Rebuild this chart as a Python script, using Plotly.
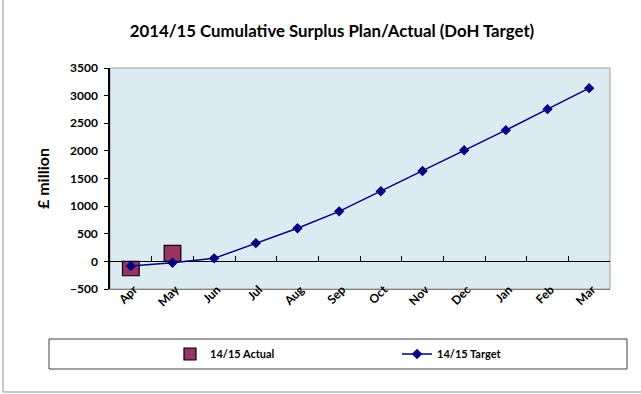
import plotly.graph_objects as go

months = ["Apr", "May", "Jun", "Jul", "Aug", "Sep", "Oct", "Nov", "Dec", "Jan", "Feb", "Mar"]
actual = [-260, 290]
target = [-85, -25, 55, 330, 600, 905, 1270, 1635, 2010, 2375, 2755, 3135]
y_ticks = [-500, 0, 500, 1000, 1500, 2000, 2500, 3000, 3500]

FONT = "Lato"
x_idx = list(range(len(months)))

fig = go.Figure()
fig.add_trace(go.Bar(
    x=x_idx[:len(actual)], y=actual, name="14/15 Actual", width=0.4,
    marker=dict(color="#993366", line=dict(color="#000000", width=1.2)),
))
fig.add_trace(go.Scatter(
    x=x_idx, y=target, name="14/15 Target", mode="lines+markers",
    line=dict(color="#000080", width=1.5),
    marker=dict(symbol="diamond", size=8, color="#000080"),
))

fig.update_layout(
    width=641, height=394,
    margin=dict(l=110, r=31, t=68, b=105),
    paper_bgcolor="white", plot_bgcolor="#DCEBF2",
    font=dict(family=FONT, color="#000000"),
    title=dict(text="2014/15 Cumulative Surplus Plan/Actual (DoH Target)",
               x=332 / 641, xanchor="center", y=1 - 31 / 394, yanchor="middle",
               font=dict(size=16.8, family=FONT, weight="bold")),
    showlegend=True,
    legend=dict(orientation="h", x=(170 - 110) / 500, y=(289 - 354) / 221,
                xanchor="left", yanchor="middle",
                entrywidth=182, entrywidthmode="pixels",
                font=dict(size=11, family=FONT, weight="bold"), bgcolor="rgba(0,0,0,0)",
                traceorder="normal"),
)

fig.update_xaxes(
    range=[-0.5, 11.5], tickvals=x_idx, ticktext=months,
    tickangle=-45, tickfont=dict(size=12, family=FONT, weight="bold"), ticks="",
    ticklabelstandoff=-12, ticklabelshift=3,
    showgrid=False, zeroline=False, showline=True, linecolor="#808080", linewidth=1,
)
fig.update_yaxes(
    range=[-500, 3500], tickvals=y_ticks,
    tickfont=dict(size=12, family=FONT, weight="bold"), ticks="outside", ticklen=4,
    tickcolor="#000000", ticklabelstandoff=4,
    showgrid=False, zeroline=True, zerolinecolor="#000000", zerolinewidth=1,
    showline=True, linecolor="#000000", linewidth=1.5,
    title=dict(text="£ million", font=dict(size=16, family=FONT, weight="bold"), standoff=16),
)

# category axis crossing at zero, carrying the boundary tick marks
fig.update_layout(xaxis2=dict(
    overlaying="x", anchor="free", position=28 / 221, side="bottom",
    range=[-0.5, 11.5], tickvals=[k + 0.5 for k in range(11)], showticklabels=False,
    ticks="inside", ticklen=5, tickcolor="#000000", showline=False, showgrid=False,
    zeroline=False,
))
fig.add_trace(go.Scatter(x=[0], y=[0], xaxis="x2", mode="markers",
                         marker=dict(opacity=0), showlegend=False, hoverinfo="skip"))

# plot-area frame on top and right
fig.add_shape(type="rect", xref="paper", yref="paper", x0=0, x1=1, y0=0, y1=1,
              line=dict(color="#A0A0A0", width=1), layer="below")
# legend frame
fig.add_shape(type="rect", xref="paper", yref="paper",
              x0=(49 - 110) / 500, x1=(627 - 110) / 500,
              y0=(289 - 369) / 221, y1=(289 - 339) / 221,
              line=dict(color="#404040", width=1))
# outer chart border (left and bottom edges)
fig.add_shape(type="line", xref="paper", yref="paper",
              x0=(3 - 110) / 500, x1=(3 - 110) / 500, y0=(289 - 392) / 221, y1=(289 - 0) / 221,
              line=dict(color="#909090", width=1))
fig.add_shape(type="line", xref="paper", yref="paper",
              x0=(3 - 110) / 500, x1=(641 - 110) / 500, y0=(289 - 392) / 221, y1=(289 - 392) / 221,
              line=dict(color="#909090", width=1))

fig.write_html("out.html")
